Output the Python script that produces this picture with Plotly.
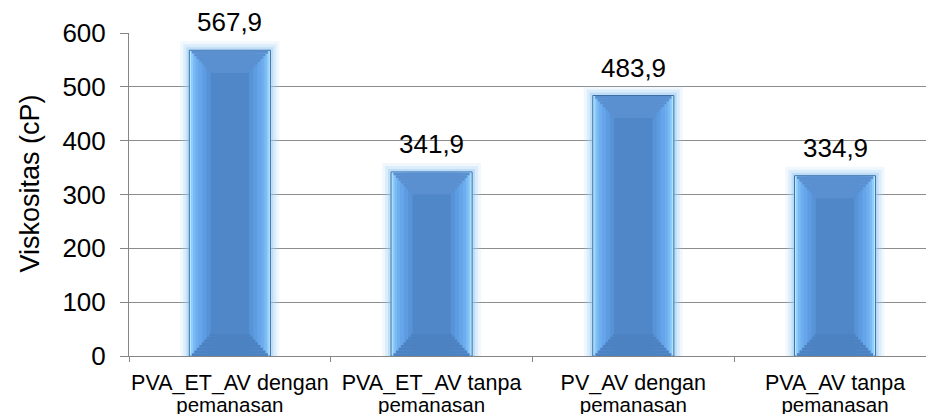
import plotly.graph_objects as go

line1 = ["PVA_ET_AV dengan", "PVA_ET_AV tanpa", "PV_AV dengan", "PVA_AV tanpa"]
line2 = ["pemanasan", "pemanasan", "pemanasan", "pemanasan"]
categories = [a + " " + b for a, b in zip(line1, line2)]
values = [567.9, 341.9, 483.9, 334.9]
y_ticks = [0, 100, 200, 300, 400, 500, 600]
labels = [f"{v:.1f}".replace(".", ",") for v in values]

FONT = "Liberation Sans, Arial, sans-serif"
BAR_W = 0.402          # bar width (category units)
W_CENTER = 0.19        # width of the dark centre face
BEVEL = 41             # bevel depth (value units)
N_STEPS = 8

fig = go.Figure()

def add_bar(y, width, color, base=None, line=None):
    fig.add_trace(go.Bar(
        x=categories, y=y, base=base, width=width,
        marker=dict(color=color, line=line or dict(width=0)),
        hoverinfo="skip", showlegend=False))

# soft glow around the bars
for lw, col in [(18, "rgba(170,210,245,0.16)"), (12, "rgba(160,205,245,0.26)"), (6, "rgba(150,200,245,0.42)")]:
    add_bar(values, BAR_W, "rgba(0,0,0,0)", line=dict(color=col, width=lw))

# body with bright edge and dark outline
add_bar(values, BAR_W, "#b8eaff", line=dict(color="#3d6ea8", width=1))
side_layers = [(0.016, "#8fcdf9"), (0.035, "#7bbbf3"), (0.06, "#6eaeef"),
               (0.09, "#66a5ea"), (0.13, "#5e9ce2"), (0.17, "#5893d8")]
for shrink, col in side_layers:
    add_bar([v - 1.5 for v in values], BAR_W - shrink, col)
# dark centre face
add_bar([v - BEVEL for v in values], W_CENTER, "#5087c8")

# top bevel (trapezoid built from thin steps)
step = BEVEL / N_STEPS
for k in range(N_STEPS):
    w = (BAR_W - 0.012) - ((BAR_W - 0.012) - W_CENTER) * (k + 0.5) / N_STEPS
    add_bar([step] * len(values), w, "#5a8fd0", base=[v - 1 - (k + 1) * step for v in values])

# bottom bevel
for k in range(N_STEPS):
    w = (BAR_W - 0.012) - ((BAR_W - 0.012) - W_CENTER) * (k + 0.5) / N_STEPS
    add_bar([step] * len(values), w, "#4d82c2", base=[k * step for _ in values])

# invisible helper trace for the second label row
fig.add_trace(go.Scatter(x=categories, y=values, xaxis="x2", mode="markers",
                         marker=dict(opacity=0), hoverinfo="skip", showlegend=False))

for c, v, t in zip(categories, values, labels):
    fig.add_annotation(x=c, y=v, text=t, showarrow=False, yanchor="bottom",
                       yshift=11, font=dict(family=FONT, size=26, color="#000000"))

fig.add_annotation(text="Viskositas (cP)", textangle=-90, showarrow=False,
                   xref="paper", yref="paper", x=0, y=0.5, xshift=-100, yshift=11,
                   xanchor="center", yanchor="middle",
                   font=dict(family=FONT, size=27, color="#000000"))

xcommon = dict(type="category", categoryorder="array", categoryarray=categories,
               range=[-0.5, 3.451], tickmode="array", tickvals=categories,
               showgrid=False, automargin=False, tickangle=0)

fig.update_layout(
    width=926, height=414,
    margin=dict(l=129, r=0, t=33, b=58, autoexpand=False),
    barmode="overlay",
    plot_bgcolor="white", paper_bgcolor="white",
    font=dict(family=FONT, color="#000000"),
    xaxis=dict(**xcommon, ticktext=line1, tickson="boundaries", ticks="outside",
               ticklen=5, tickcolor="#868686", showline=True, linecolor="#868686",
               linewidth=1, ticklabelstandoff=7,
               tickfont=dict(family=FONT, size=21.5, color="#000000")),
    xaxis2=dict(**xcommon, ticktext=line2, overlaying="x", anchor="y", side="bottom",
                ticks="", showline=False, ticklabelstandoff=34,
                tickfont=dict(family=FONT, size=20.5, color="#000000")),
    yaxis=dict(
        range=[0, 600], tickvals=y_ticks, ticks="outside", ticklen=8, tickcolor="#868686",
        showline=True, linecolor="#868686", linewidth=1, automargin=False,
        showgrid=True, gridcolor="#8c8c8c", gridwidth=1, zeroline=False,
        tickfont=dict(family=FONT, size=26, color="#000000"), ticklabelstandoff=9,
    ),
)

fig.write_html("out.html", config={"displayModeBar": False},
               post_script="document.body.style.margin='0';document.body.style.overflow='hidden';")
